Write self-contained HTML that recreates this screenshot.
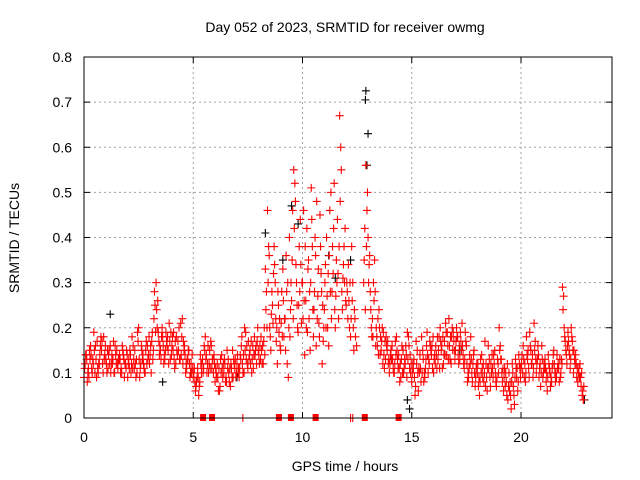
<!DOCTYPE html>
<html><head><meta charset="utf-8"><style>
body{margin:0;background:#fff}
svg{display:block;font-family:"Liberation Sans",sans-serif}
</style></head><body>
<svg id="chart" width="640" height="480">
<text x="345" y="32" text-anchor="middle" font-size="14">Day 052 of 2023, SRMTID for receiver owmg</text>
<text x="0" y="0" transform="translate(19,238) rotate(-90)" text-anchor="middle" font-size="14">SRMTID / TECUs</text>
<text x="345" y="471" text-anchor="middle" font-size="14">GPS time / hours</text>
<g id="grid"></g><g id="axes"></g><g id="marks"></g>
<rect x="84" y="57" width="528" height="361" fill="none" stroke="#000" stroke-width="1"/>
</svg>
<script>
const xTicks=[0,5,10,15,20];
const yTicks=[0,0.1,0.2,0.3,0.4,0.5,0.6,0.7,0.8];
const redA=[.09,.14,.11,.16,.13,.10,.17,.12,.15,.18,
.13,.11,.16,.12,.10,.15,.13,.11,.14,.12,
.09,.15,.18,.11,.13,.20,.12,.14,.10,.16,
.12,.17,.22,.30,.19,.15,.18,.13,.16,.21,
.14,.19,.12,.17,.13,.22,.16,.11,.15,.12,
.09,.06,.11,.08,.12,.16,.14,.10,.17,.13,
.08,.12,.06,.14,.10,.09,.13,.07,.15,.11,
.12,.09,.16,.14,.19,.11,.15,.13,.18,.12,
.14,.18,.12,.33,.46,.20,.28,.38,.17,.25,
.15,.33,.22,.12,.40,.26,.55,.34,.19,.44,
.30,.14,.42,.22,.51,.18,.36,.27,.45,.12,
.24,.40,.16,.50,.32,.20,.44,.67,.28,.38,
.25,.34,.18,.30,.22,null,null,null,.30,.56,
.40,.28,.22,.35,.18,.24,.15,.19,.13,.17,
.12,.16,.10,.18,.14,.09,.15,.12,.19,.11,
.08,.13,.17,.06,.11,.15,.09,.19,.12,.14,
.10,.16,.13,.20,.11,.17,.14,.22,.12,.19,
.15,.18,.13,.21,.11,.16,.09,.18,.12,.07,
.10,.05,.14,.08,.12,.16,.07,.11,.15,.09,
.20,.13,.06,.10,.04,.08,.12,.03,.09,.14,
.11,.16,.08,.13,.19,.12,.21,.10,.14,.07,
.09,.13,.06,.11,.08,.15,.10,.12,.09,.29,
.18,.12,.15,.20,.10,.14,.08,.12,.05];
const redB=[.12,.08,.15,.11,.19,.13,.10,.16,.12,.14,
.10,.15,.12,.17,.14,.11,.13,.16,.09,.15,
.13,.10,.16,.12,.19,.09,.15,.11,.17,.14,
.16,.13,.25,.20,.14,.18,.12,.19,.15,.13,
.18,.11,.15,.20,.14,.17,.10,.13,.09,.14,
.11,.08,.05,.12,.10,.18,.12,.15,.11,.14,
.10,.06,.13,.09,.12,.15,.08,.11,.13,.09,
.10,.14,.12,.20,.16,.13,.17,.11,.15,.20,
.16,.12,.20,.28,.38,.15,.21,.30,.12,.22,
.28,.18,.36,.09,.24,.46,.52,.25,.38,.21,
.46,.26,.33,.15,.38,.28,.48,.21,.32,.17,
.34,.20,.46,.28,.52,.35,.22,.60,.31,.42,
.28,.20,.38,.15,null,null,null,null,.42,.46,
.34,.20,.30,.16,.22,.14,.20,.11,.16,.13,
.15,.11,.17,.13,.08,.16,.11,.14,.18,.10,
.12,.05,.15,.10,.18,.08,.13,.10,.16,.11,
.14,.11,.18,.15,.12,.21,.16,.13,.20,.15,
.20,.12,.17,.14,.19,.08,.14,.10,.15,.11,
.07,.13,.09,.17,.06,.13,.10,.14,.08,.12,
.16,.08,.11,.05,.10,.02,.07,.13,.06,.11,
.14,.09,.18,.11,.15,.09,.17,.13,.11,.16,
.12,.08,.14,.07,.12,.10,.14,.08,.13,.27,
.15,.19,.11,.17,.13,.09,.11,.07,.04];
const redC=[.11,.13,.09,.14,.12,.16,.11,.14,.17,.13,
.12,.14,.10,.13,.16,.12,.14,.10,.13,.11,
.12,.14,.11,.15,.10,.13,.16,.12,.15,.13,
.14,.19,.28,.24,.17,.13,.16,.15,.18,.17,
.16,.13,.18,.15,.21,.12,.14,.13,.12,.10,
.10,.07,.09,.14,.13,.15,.10,.12,.16,.10,
.11,.09,.07,.11,.13,.08,.10,.12,.09,.13,
.14,.11,.18,.10,.13,.17,.12,.16,.14,.17,
.12,.15,.17,.24,.30,.18,.25,.34,.20,.19,
.21,.26,.15,.30,.18,.35,.42,.30,.25,.34,
.22,.38,.19,.28,.44,.24,.16,.33,.38,.25,
.30,.27,.36,.22,.42,.27,.32,.48,.24,.30,
.30,.26,.22,.20,.18,null,null,null,.35,.38,
.30,.24,.18,.28,.16,.20,.17,.14,.18,.12,
.14,.13,.12,.15,.11,.13,.10,.16,.13,.14,
.10,.09,.12,.11,.08,.13,.11,.14,.17,.16,
.13,.14,.15,.17,.18,.14,.19,.16,.18,.17,
.17,.14,.19,.16,.13,.12,.11,.13,.14,.09,
.12,.08,.11,.10,.09,.11,.12,.09,.10,.13,
.15,.10,.09,.08,.07,.05,.10,.09,.11,.12,
.12,.13,.10,.15,.16,.14,.15,.12,.09,.10,
.10,.11,.09,.10,.11,.12,.09,.11,.10,.24,
.17,.16,.14,.18,.15,.12,.10,.09,.06];
const redD=[.14,.10,.13,.10,.15,.09,.12,.18,.10,.16,
.15,.12,.14,.10,.12,.13,.10,.15,.12,.14,
.11,.12,.13,.09,.17,.11,.13,.10,.12,.18,
.10,.15,.19,.26,.16,.20,.14,.17,.12,.19,
.15,.17,.14,.13,.18,.15,.12,.15,.10,.11,
.08,.09,.07,.10,.11,.13,.16,.11,.13,.12,
.09,.11,.10,.12,.08,.11,.11,.09,.12,.10,
.11,.13,.10,.15,.12,.14,.10,.14,.16,.15,
.13,.16,.14,.20,.36,.23,.32,.22,.28,.16,
.18,.22,.28,.20,.30,.22,.48,.20,.28,.30,
.26,.20,.35,.30,.24,.40,.22,.18,.28,.20,
.20,.32,.28,.38,.24,.30,.38,.55,.34,.26,
.22,.30,.26,.24,.16,null,null,null,.24,.50,
.36,.18,.26,.20,.14,.18,.12,.17,.15,.10,
.13,.10,.14,.11,.12,.10,.13,.09,.16,.12,
.11,.07,.10,.14,.10,.10,.16,.13,.15,.18,
.12,.18,.11,.16,.14,.19,.13,.18,.15,.13,
.18,.16,.15,.12,.17,.10,.12,.08,.10,.12,
.09,.10,.12,.07,.11,.09,.14,.12,.07,.10,
.13,.11,.07,.12,.06,.08,.05,.11,.08,.09,
.10,.12,.14,.09,.12,.11,.13,.16,.12,.13,
.11,.10,.12,.09,.14,.08,.11,.13,.12,.20,
.14,.17,.13,.15,.12,.11,.09,.10,.07];
const blackT=[1.2,3.6,8.3,9.1,9.5,9.8,11.2,11.5,12.2,12.9,12.88,13.0,12.95,14.9,14.8,22.9,7.0,20.5,17.2];
const blackV=[.23,.08,.41,.35,.47,.43,.36,.31,.35,.725,.705,.63,.56,.02,.04,.04,.09,.12,.15];
const zeroSquareT=[5.45,5.86,8.92,9.47,10.6,12.85,14.4];
const zeroPlusT=[7.27,12.2,12.3];
const NS='http://www.w3.org/2000/svg';
const X=v=>84+v*21.85, Y=v=>418-v*451.25;
const grid=document.getElementById('grid'),axes=document.getElementById('axes'),marks=document.getElementById('marks');
function mk(tag,attrs,parent){const e=document.createElementNS(NS,tag);for(const k in attrs)e.setAttribute(k,attrs[k]);parent.appendChild(e);return e;}
xTicks.forEach(t=>{
 if(t>0){const g=mk('line',{x1:X(t),x2:X(t),y1:57,y2:418,stroke:'#a0a0a0','stroke-dasharray':'2,3'},grid);
 
 }
 mk('line',{x1:X(t),x2:X(t),y1:418,y2:412,stroke:'#000'},axes);
 mk('line',{x1:X(t),x2:X(t),y1:57,y2:63,stroke:'#000'},axes);
 const l=mk('text',{x:X(t),y:442,'text-anchor':'middle','font-size':14},axes);l.textContent=t;
 
 
});
yTicks.forEach(t=>{
 if(t>0&&t<0.8){const g=mk('line',{x1:84,x2:612,y1:Y(t),y2:Y(t),stroke:'#a0a0a0','stroke-dasharray':'2,3'},grid);
 
 }
 mk('line',{x1:84,x2:90,y1:Y(t),y2:Y(t),stroke:'#000'},axes);
 mk('line',{x1:612,x2:606,y1:Y(t),y2:Y(t),stroke:'#000'},axes);
 const l=mk('text',{x:72,y:Y(t)+5,'text-anchor':'end','font-size':14},axes);l.textContent=(t===0?'0':t.toFixed(1));
 
 
});
function plus(t,v,col,name){const x=X(t),y=Y(v);
 const p=mk('path',{d:`M${x-4},${y}H${x+4}M${x},${y-4}V${y+4}`,stroke:col,'stroke-width':1.1,fill:'none'},marks);
 
 }
blackT.forEach((t,i)=>plus(t,blackV[i],'#000','black-point'));
redA.forEach((v,i)=>{if(v!==null)plus(i*0.1,v,'#f00','red-point');});
redB.forEach((v,i)=>{if(v!==null)plus(i*0.1+0.05,v,'#f00','red-point');});
redC.forEach((v,i)=>{if(v!==null)plus(i*0.1+0.025,v,'#f00','red-point');});
redD.forEach((v,i)=>{if(v!==null)plus(i*0.1+0.075,v,'#f00','red-point');});
zeroPlusT.forEach(t=>plus(t,0,'#f00','zero-point'));
zeroSquareT.forEach(t=>{const r=mk('rect',{x:X(t)-3,y:414,width:6,height:7,fill:'#f00'},marks);
 
 });
</script>
</body></html>
